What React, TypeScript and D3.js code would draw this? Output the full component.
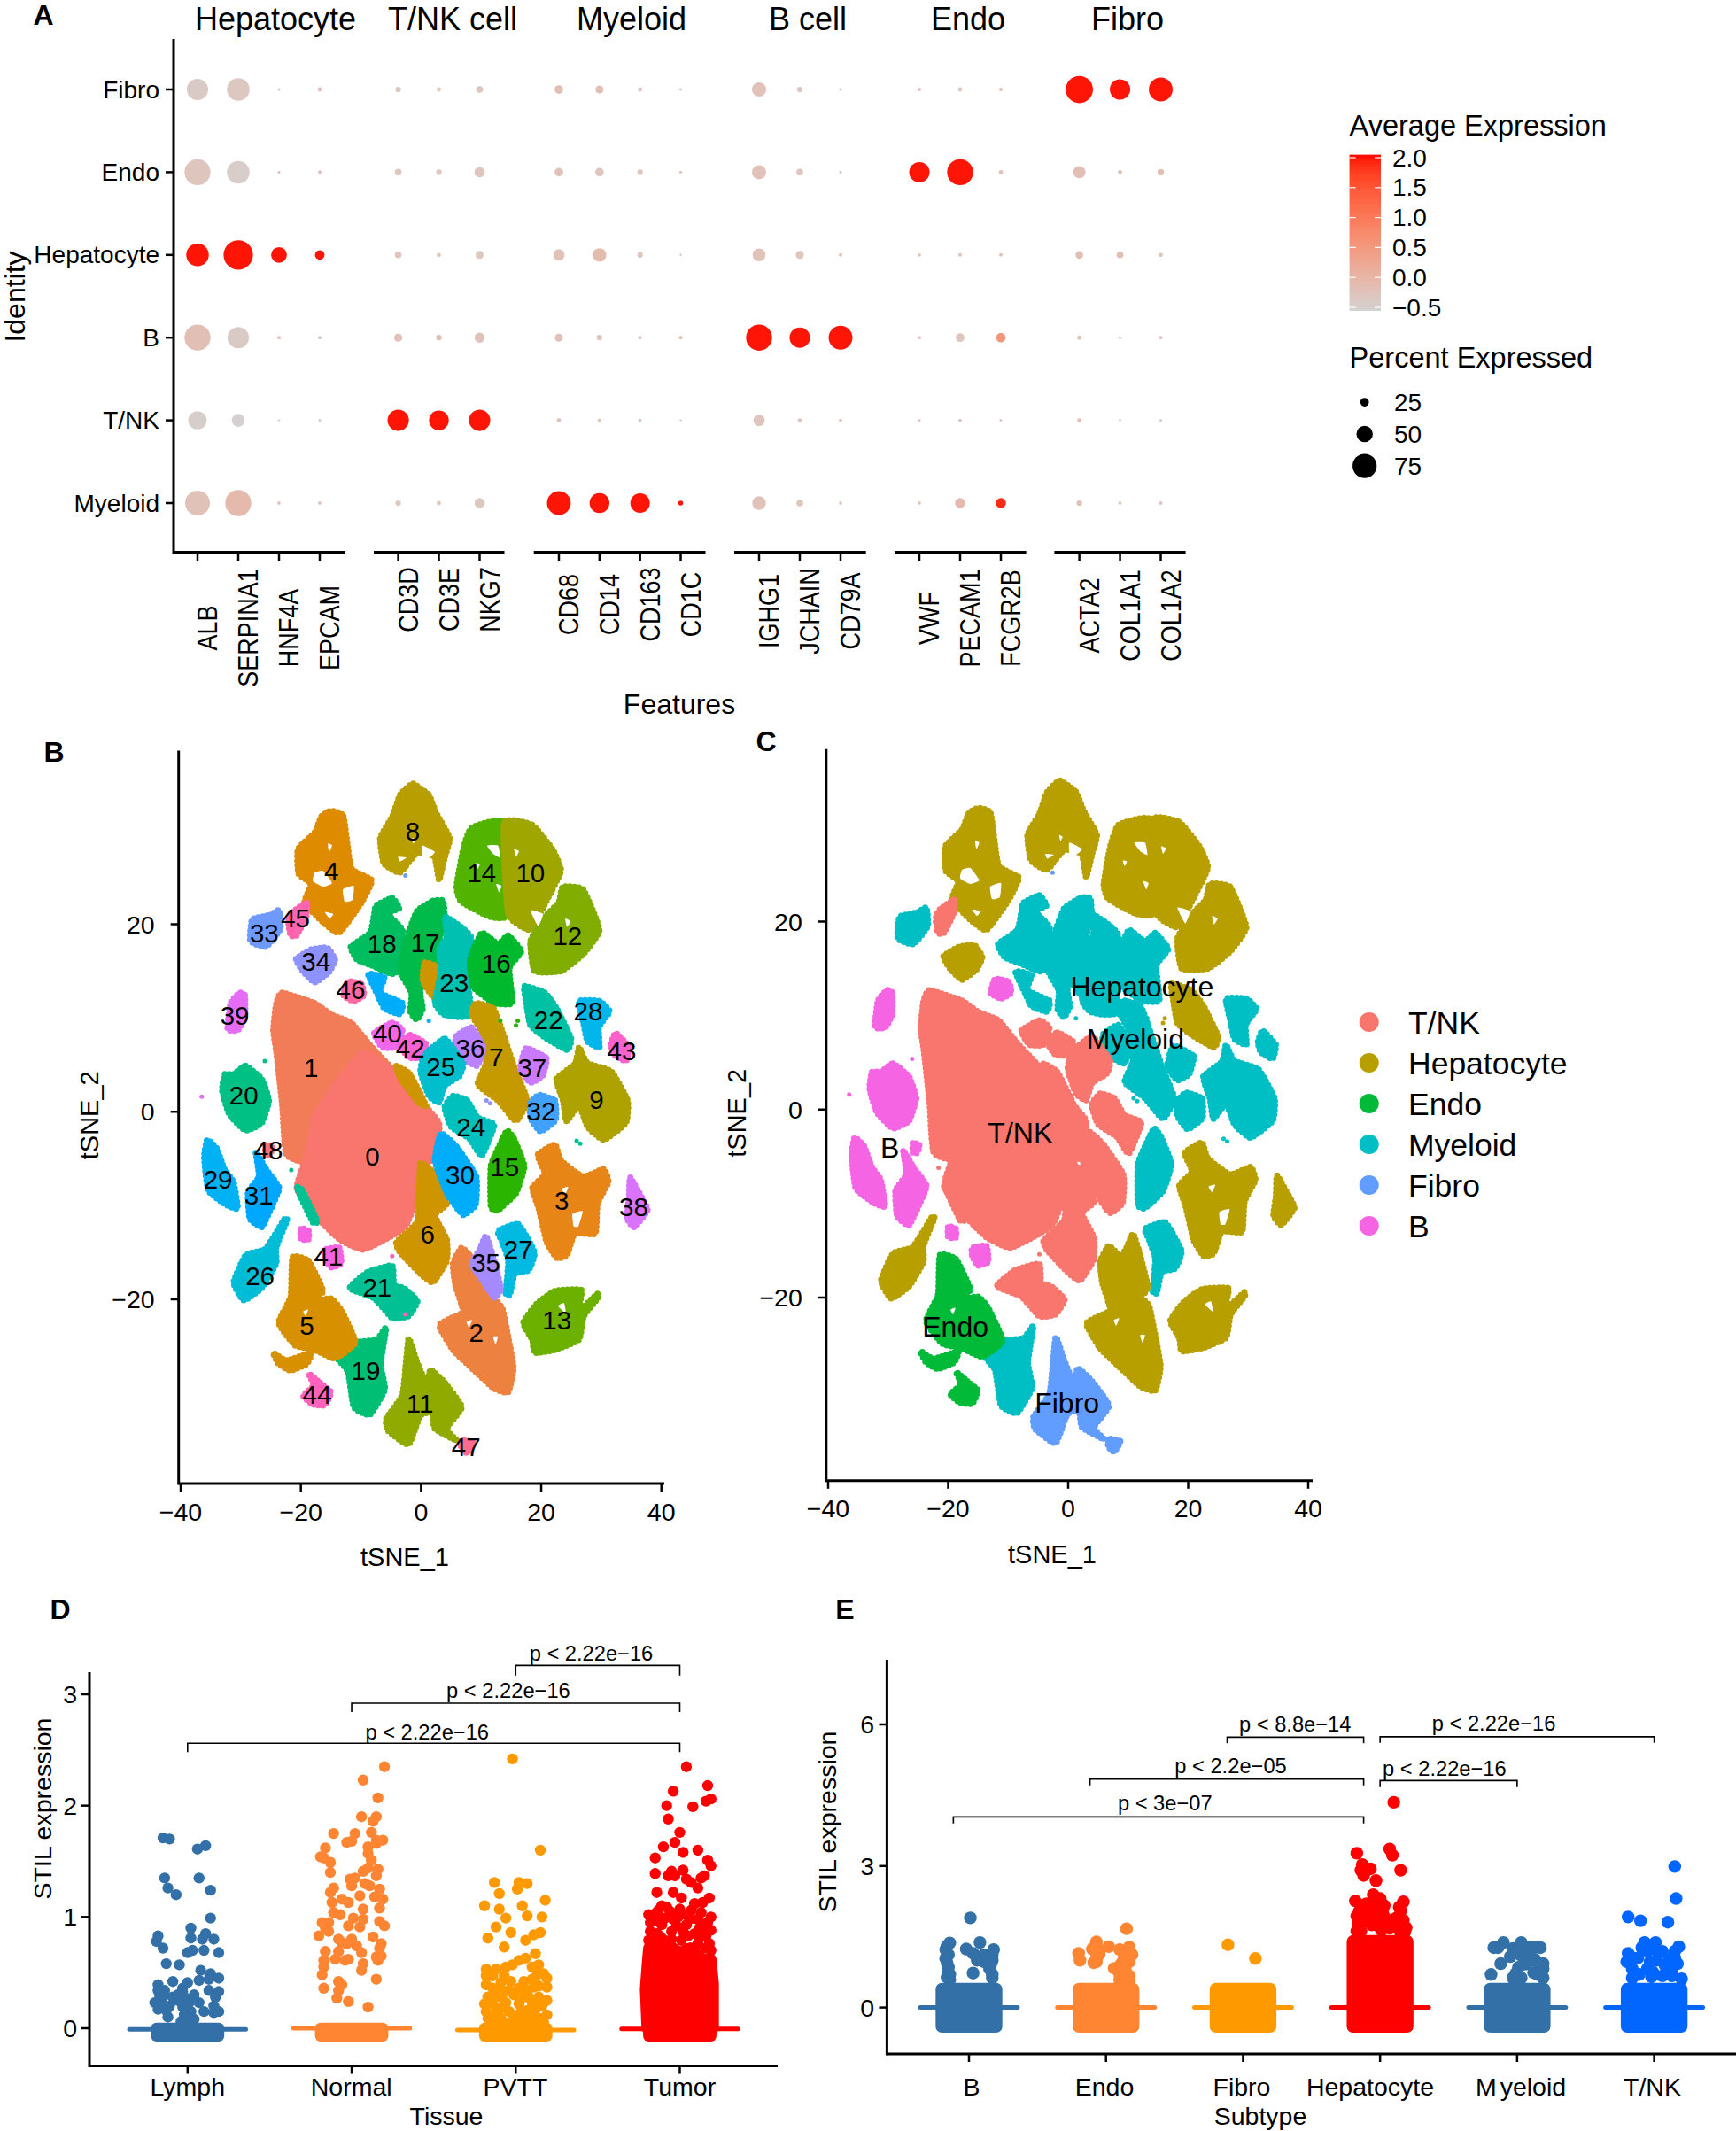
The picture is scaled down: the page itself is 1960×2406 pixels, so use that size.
import React from "react";
import * as d3 from "d3";

// ---------- Panel A data ----------
const identities = ["Fibro", "Endo", "Hepatocyte", "B", "T/NK", "Myeloid"];
const featureGroups = [
  { title: "Hepatocyte", genes: ["ALB", "SERPINA1", "HNF4A", "EPCAM"] },
  { title: "T/NK cell", genes: ["CD3D", "CD3E", "NKG7"] },
  { title: "Myeloid", genes: ["CD68", "CD14", "CD163", "CD1C"] },
  { title: "B cell", genes: ["IGHG1", "JCHAIN", "CD79A"] },
  { title: "Endo", genes: ["VWF", "PECAM1", "FCGR2B"] },
  { title: "Fibro", genes: ["ACTA2", "COL1A1", "COL1A2"] },
];
const percentExpressed = [
  [66, 70, 6, 11, 15, 11, 19, 25, 23, 11, 6, 43, 15, 6, 9, 11, 9, 85, 63, 74],
  [81, 70, 6, 9, 19, 15, 31, 25, 25, 15, 6, 43, 19, 6, 63, 81, 11, 37, 11, 18],
  [70, 92, 48, 28, 19, 11, 23, 34, 41, 15, 4, 39, 23, 9, 8, 9, 9, 22, 19, 11],
  [81, 66, 9, 8, 23, 15, 30, 23, 15, 8, 8, 81, 63, 74, 8, 25, 28, 11, 6, 8],
  [57, 39, 4, 6, 66, 61, 66, 11, 9, 8, 4, 34, 11, 8, 6, 8, 6, 11, 5, 6],
  [77, 81, 8, 8, 15, 11, 30, 74, 61, 60, 13, 41, 19, 8, 8, 30, 30, 15, 8, 9],
];
const averageExpression = [
  [-0.38, -0.33, -0.28, -0.23, -0.33, -0.33, -0.28, -0.18, -0.18, -0.28, -0.28, -0.23, -0.33, -0.23, -0.28, -0.33, -0.23, 2, 2, 2],
  [-0.28, -0.43, -0.28, -0.28, -0.33, -0.33, -0.28, -0.23, -0.28, -0.28, -0.28, -0.23, -0.28, -0.28, 2, 2, -0.23, -0.18, -0.23, -0.18],
  [2, 2, 2, 2, -0.28, -0.33, -0.33, -0.23, -0.1, -0.28, -0.33, -0.23, -0.28, -0.28, -0.28, -0.28, -0.28, -0.18, -0.18, -0.23],
  [-0.18, -0.38, -0.33, -0.28, -0.18, -0.18, -0.23, -0.23, -0.28, -0.28, -0.1, 2, 2, 2, -0.28, -0.28, 0.55, -0.23, -0.23, -0.23],
  [-0.45, -0.5, -0.33, -0.33, 2, 2, 2, -0.23, -0.28, -0.33, -0.33, -0.28, -0.28, -0.28, -0.28, -0.28, -0.33, -0.23, -0.28, -0.28],
  [-0.23, -0.08, -0.33, -0.28, -0.33, -0.33, -0.33, 2, 2, 2, 2, -0.23, -0.28, -0.33, -0.28, -0.08, 1.9, -0.23, -0.28, -0.28],
];
const colorTicks = [2, 1.5, 1, 0.5, 0, -0.5];
const pctTicks = [25, 50, 75];

// ---------- Panel B / C data (tSNE coordinates) ----------
const cellTypes = ["T/NK", "Hepatocyte", "Endo", "Myeloid", "Fibro", "B"];
const cellTypeColors = ["#F8766D", "#B79F00", "#00BA38", "#00BFC4", "#619CFF", "#F564E3"];
type Pt = [number, number];
const clusterOutlines: [number, number, Pt[]][] = [
  [1, 0, [[-23.1, 12.7], [-17.7, 11.6], [-15, 10.4], [-11.6, 9.5], [-8.2, 6.9], [-4.1, 4], [-4.8, 1.7], [-17.7, -5.2], [-22.4, -4.6], [-23.1, 0.6], [-24.1, 6.4], [-24.6, 8.7], [-24.1, 11.6]]],
  [0, 0, [[-9.5, 6.4], [-4.1, 4], [-0.1, 1.2], [3, -1.2], [2.6, -4.9], [-0.1, -5.8], [-0.7, -9.2], [-2.8, -12.4], [-9.5, -14.7], [-13.6, -13.6], [-17.7, -11], [-20.7, -8.1], [-19, -4.6], [-17.7, -0.6], [-14.3, 2.9]]],
  [6, 0, [[-0.1, -5.5], [2, -6.4], [4.3, -9.8], [2.3, -11], [4.3, -13.6], [4.3, -15.9], [2, -18.2], [-0.1, -17.3], [-3.5, -15], [-4.1, -13.9], [-0.7, -11.8], [-0.4, -9.2]]],
  [6, 0, [[-4.1, 4.9], [-1.8, 4], [0.9, 0.6], [-0.5, 1], [-3.5, 3.6]]],
  [21, 0, [[-20.7, -8.1], [-19.7, -8.4], [-17.3, -11.6], [-18, -11.8]]],
  [4, 1, [[-15, 32.1], [-12.9, 31.5], [-11.6, 26], [-8.2, 24.7], [-9.9, 22.3], [-13.6, 19.1], [-16.3, 20.2], [-19.4, 22.3], [-18.3, 24.3], [-20.4, 25.4], [-20.5, 28], [-17.7, 29.8], [-16.6, 31.5]]],
  [8, 1, [[-1.4, 35], [1.3, 33.8], [2.6, 31.8], [4.8, 29.2], [4, 27.2], [3, 24.7], [2.2, 27.2], [-0.7, 27.6], [-3.5, 25.5], [-6.2, 26.5], [-6.8, 29.2], [-4.8, 31.5], [-3.5, 33.8]]],
  [14, 1, [[8.4, 30.3], [13.8, 30.8], [14.5, 21.1], [11.4, 20.8], [6.7, 22.4], [5.9, 24], [7, 28]]],
  [10, 1, [[13.8, 30.8], [18.5, 30.6], [21.9, 28], [23.3, 25.7], [20.9, 22.5], [18.2, 19.4], [14.5, 21.1]]],
  [12, 1, [[23.6, 24], [27, 23.7], [29.7, 19.4], [27, 16.8], [23.3, 15], [18.9, 15], [18.2, 18.2], [20.6, 20.8], [22.9, 22.3]]],
  [18, 3, [[-7.5, 22], [-4.8, 22.8], [-3.6, 21.7], [-5.5, 21.1], [-3.1, 19.4], [-2.8, 15.6], [-4.8, 14.7], [-8.2, 15.6], [-10.6, 16.2], [-11.7, 17.6], [-8.5, 19.1], [-7.8, 21.1]]],
  [30, 3, [[-8.8, 14.7], [-6.1, 14.3], [-6.8, 12.7], [-3.1, 11.6], [-3.5, 10.4], [-6.1, 11], [-7.2, 12.4]]],
  [17, 3, [[-0.7, 21.4], [2, 22.5], [3.7, 22.5], [3.9, 20.5], [3, 18.2], [3, 15.9], [0.6, 15.6], [-0.1, 12.7], [0.3, 11], [-0.7, 9.8], [-1.8, 10.7], [-1.6, 12.7], [-3.5, 15], [-2.4, 18.5]]],
  [6, 3, [[0.6, 15.9], [3, 15.3], [2.3, 12.1], [0.3, 13.9]]],
  [23, 3, [[4, 20.8], [6.7, 19.7], [8.4, 18.5], [7.7, 14.5], [8.4, 10.4], [6, 10.1], [3.7, 10.4], [2.3, 11.6], [3.3, 15], [3, 17.3], [4.3, 18.8]]],
  [16, 3, [[10.1, 19.1], [12.8, 17.9], [14.5, 18.8], [16.7, 17.1], [14.7, 15.3], [15.2, 11.6], [12.1, 11.6], [8.7, 13.3], [8.1, 16.2]]],
  [7, 3, [[9.1, 11.6], [12.1, 11], [13.8, 8.1], [15.8, 4.3], [17.7, 1.2], [15.8, -1], [12.8, 1.2], [9.4, 2.9], [10.8, 5.2], [10.4, 8.1], [8.4, 10.4]]],
  [22, 1, [[17.2, 13.4], [20.6, 12.7], [22.6, 11], [25, 7.8], [24.3, 6.6], [20.9, 7.8], [18.2, 9.2], [17.5, 11.6]]],
  [28, 3, [[26.3, 11.8], [29.7, 11.8], [31.4, 10.7], [29.6, 9], [29.7, 6.9], [27.7, 7.5], [27, 9.5]]],
  [43, 3, [[32.4, 8.4], [34.6, 6.9], [34.1, 5.4], [32.1, 6.1], [31.6, 7.2]]],
  [9, 3, [[26.3, 6.9], [27.7, 5.2], [31.7, 4.3], [34.4, 1.2], [34.1, -1.2], [30.4, -3], [27.7, -1.6], [26.3, 0.6], [24.2, -1], [23.6, 1.2], [22.5, 3.5], [25.6, 5.1]]],
  [37, 3, [[17.5, 6.8], [20.9, 5.7], [20.2, 3.8], [18.2, 3.1], [16.5, 4.6]]],
  [32, 3, [[19.6, 1.8], [22.3, 1.2], [22.4, -0.9], [19.9, -2.1], [18.2, -0.7], [18.2, 0.9]]],
  [15, 3, [[14.3, -2], [15.5, -2.9], [17.2, -5.8], [15.8, -8.7], [12.8, -10.5], [11.6, -10.1], [11.6, -5.8], [13.1, -3.5]]],
  [3, 1, [[22.3, -3.5], [23.3, -5.2], [27, -6.9], [30.4, -6.1], [31.2, -7.5], [29.4, -9.8], [29, -13], [25.6, -13], [24.3, -15.3], [22.6, -15.6], [20.9, -13.9], [19.6, -10.4], [18.5, -8.1], [20.6, -6.6], [19.4, -4.6]]],
  [38, 1, [[34.8, -7], [36.8, -9.2], [37.7, -10.5], [35.5, -12.3], [34.2, -11.3], [34.6, -9.2]]],
  [27, 3, [[12.8, -12.7], [16.2, -12], [18.9, -15], [17.9, -16.9], [15.6, -17.3], [14.8, -19.5], [14.1, -19.4], [14.5, -15.9], [13.5, -13.9]]],
  [2, 1, [[6.7, -14.5], [8.1, -15.3], [8.4, -17.3], [10.1, -18.5], [12.1, -19.9], [13.6, -21.1], [15.4, -27.2], [14.5, -29.9], [12.1, -29.5], [8.7, -27.5], [5.3, -25.4], [3, -22.8], [5, -22], [7, -21.3], [5.7, -18.5], [5.3, -16.2]]],
  [35, 1, [[10.8, -13.2], [11.8, -15], [13.3, -18.8], [12.2, -19.8], [10.1, -17.9], [8.4, -16.3], [9.7, -14.7]]],
  [13, 1, [[22.3, -19.1], [26.7, -19], [26.3, -21.1], [29.4, -19.4], [29.4, -19.9], [27.1, -21.8], [26.3, -24.3], [22.3, -25.4], [18.9, -25.7], [18.5, -24.3], [17, -22.5], [19.2, -20.5]]],
  [11, 4, [[-2.1, -24.2], [-0.7, -26.6], [0.9, -28.9], [1.6, -27.5], [4, -28.9], [6.8, -31.5], [4.3, -33.8], [6, -35.1], [2.3, -33.8], [1.8, -32.1], [-0.1, -32.4], [-2.1, -35.5], [-5.5, -34], [-5.8, -32.7], [-3.1, -30.1]]],
  [47, 4, [[6.7, -35], [8.7, -35.3], [7.7, -36.4], [6.7, -35.9]]],
  [19, 3, [[-14.3, -25.9], [-10.9, -24.6], [-7.4, -24.3], [-5.8, -23], [-6.7, -26.9], [-6, -29.6], [-8.5, -32.3], [-11.2, -31.5], [-12.2, -27.7]]],
  [5, 2, [[-21.4, -15.5], [-18.7, -15.9], [-16.3, -19.1], [-18, -20.2], [-15, -19.9], [-13.3, -21.1], [-10.9, -24.6], [-14.3, -26.3], [-17.7, -25.4], [-21, -24.9], [-23.7, -22.5], [-21.7, -19.7]]],
  [5, 2, [[-24.6, -25.7], [-22.4, -26.5], [-18.3, -25.7], [-19, -26.9], [-21.7, -27.6], [-23.7, -26.9]]],
  [44, 2, [[-18.7, -27.9], [-16.8, -28.9], [-15, -29.9], [-16, -31.3], [-18, -31.2], [-19.6, -30.3], [-17.9, -29.2]]],
  [26, 1, [[-22.3, -11.6], [-24.1, -14.5], [-24.1, -16.2], [-26.5, -18.8], [-29.5, -20.1], [-31.2, -18.2], [-29.2, -15.3], [-26.1, -14.7], [-24.8, -13.6], [-22.7, -11.4]]],
  [21, 0, [[-11.9, -18.8], [-8.9, -17.1], [-4.8, -16.4], [-4.5, -18.5], [-2.8, -18.8], [-0.6, -20.2], [-2.1, -21.8], [-4.8, -22], [-7.8, -19.9]]],
  [41, 5, [[-16, -14.7], [-13.6, -14.5], [-13.3, -16.2], [-15, -16.6], [-16, -15.6]]],
  [41, 5, [[-20, -12.4], [-18.7, -12.7], [-18.7, -13.6], [-20, -13.6]]],
  [20, 5, [[-31.2, 4], [-29.2, 4.9], [-26.5, 3.5], [-25.3, 1.2], [-26.5, -1.2], [-29.2, -2], [-31.9, -0.3], [-33.1, 2.2], [-32.7, 4]]],
  [29, 5, [[-35.6, -3], [-34, -3.9], [-32.7, -6.1], [-31.2, -7.5], [-30.5, -10.3], [-32.5, -9.9], [-35.4, -8.4], [-36.1, -4.9]]],
  [31, 5, [[-27.5, -4.3], [-25.8, -6.1], [-23.6, -8.1], [-24.8, -10.1], [-26.5, -12.3], [-28.5, -11.4], [-28.8, -8.6], [-27, -6.9]]],
  [48, 5, [[-25.9, -3.5], [-24.8, -3.8], [-25.1, -4.6], [-25.9, -4.6]]],
  [39, 5, [[-30.2, 12.7], [-29.3, 12.4], [-29.3, 10.1], [-30.5, 8.7], [-32.2, 8.8], [-31.7, 11.6]]],
  [33, 3, [[-28.1, 20.5], [-25.1, 21], [-23.6, 21.5], [-23.4, 19.5], [-25.8, 17.6], [-28.4, 18.2]]],
  [45, 0, [[-21.4, 21.3], [-19, 22.3], [-19.1, 20.8], [-20.7, 18.8], [-21.7, 18.8], [-22.1, 20.3]]],
  [34, 1, [[-20.8, 16.3], [-18.3, 17.3], [-15.6, 17.5], [-14.3, 16.2], [-15.3, 14.9], [-17.7, 13.8], [-19.7, 15]]],
  [46, 5, [[-12.2, 13.9], [-9.9, 13.6], [-9.5, 12.4], [-11.2, 11.8], [-12.9, 12.4]]],
  [40, 0, [[-7.8, 8.4], [-4.8, 9.5], [-3.1, 8.7], [-4.1, 6.9], [-6.5, 6.9]]],
  [42, 0, [[-3.5, 7.2], [-1.8, 8.2], [0.9, 7.2], [0.3, 5.8], [-2.1, 5.8]]],
  [36, 3, [[5.9, 8.1], [8.4, 9], [10.4, 6.9], [9.4, 4.9], [7.4, 5.5], [5.7, 6.9]]],
  [25, 0, [[0.6, 6.1], [4, 7.8], [7, 5.2], [6.4, 3.8], [4, 2.8], [3, 1], [1.3, 1.7], [-0.1, 4.3]]],
  [24, 0, [[5.3, 1.7], [7.7, 1.2], [9.4, -0.6], [12.2, -1.4], [10.1, -4.7], [8.1, -2.9], [5, -1.6], [3.9, 0.5]]],
  [30, 0, [[3.3, -2.3], [6, -3.8], [9.2, -6.9], [9.1, -9.9], [7, -11], [4.3, -8.7], [2.3, -5.2]]],
];
const clusterHoles: Pt[][] = [
  [[-17.7, 25.5], [-16.3, 25.7], [-14.8, 24.4], [-16.3, 24], [-18, 24.6]],
  [[-13, 23.7], [-11.2, 24.1], [-11.4, 22.6], [-12.7, 22.4]],
  [[-16, 21.3], [-14.6, 21.1], [-15.2, 20.6]],
  [[-15.5, 28.6], [-14.8, 28.4], [-15.3, 27.7]],
  [[-3.8, 27.2], [-2.4, 27.1], [-3.5, 26.7]],
  [[0.2, 28.4], [2.3, 27.7], [1.3, 27.1], [0.2, 27.2]],
  [[-1.5, 29.2], [-0.9, 29], [-1.3, 28.6]],
  [[11, 28.4], [12.8, 28.4], [13.2, 27.1], [12, 27.5]],
  [[9.1, 26.5], [9.8, 26.4], [9.4, 25.9]],
  [[15.5, 28], [16.3, 27.8], [15.8, 27.2]],
  [[12.5, 24.3], [13.4, 24.1], [13, 23.4]],
  [[18.2, 21.5], [20.3, 21.1], [19.5, 19.8]],
  [[24, 20.6], [24.9, 20.3], [24.3, 19.7]],
  [[25.2, -10.9], [26.9, -10.6], [26.2, -12.2], [25.4, -12.2]],
  [[23.4, -8.2], [24.5, -8], [24, -8.8]],
  [[22.8, -20.7], [23.8, -20.4], [24.1, -21.5]],
  [[-19.6, -21.3], [-18.8, -21.1], [-19.2, -21.8]],
  [[7.6, -22.4], [8.5, -22.2], [8, -23]],
  [[12, -24], [12.8, -24], [12.4, -24.8]],
];
const clusterLabelSpots: Pt[] = [
  [-8.1, -4.7], [-18.3, 4.7], [9.2, -23.5], [23.4, -9.5], [-14.9, 25.7], [-19, -22.8], [1.1, -13.1], [12.5, 5.8], [-1.4, 29.9], [29.2, 1.3],
  [18.2, 25.5], [-0.2, -31.1], [24.4, 18.8], [22.6, -22.2], [10.1, 25.5], [13.9, -5.9], [12.5, 15.8], [0.7, 18], [-6.5, 17.9], [-9.2, -27.6],
  [-29.5, 1.8], [-7.3, -18.7], [21.2, 9.8], [5.5, 13.8], [8.3, -1.6], [3.3, 4.8], [-26.8, -17.5], [16.2, -14.7], [27.8, 10.7], [-33.8, -7.2],
  [6.5, -6.7], [-27, -8.9], [20, 0.1], [-26.1, 19.1], [-17.5, 16], [10.8, -16.1], [8.2, 6.8], [18.5, 4.7], [35.4, -10.1], [-31, 10.3],
  [-5.6, 8.4], [-15.4, -15.4], [-1.8, 6.8], [33.4, 6.5], [-17.3, -30.2], [-20.9, 20.7], [-11.7, 13], [7.5, -35.7], [-25.4, -4.1],
];
const cellTypeLabelSpots: [string, number, number][] = [
  ["Hepatocyte", 12.3, 13.1], ["Myeloid", 11.2, 7.5], ["T/NK", -8, -2.5], ["B", -29.7, -4.1], ["Endo", -18.8, -23.1], ["Fibro", -0.2, -31.2],
];
const strayPoints: [number, number, number, number][] = [
  [-36.5, 1.6, 39, 5], [25.9, -3.1, 21, 3], [26.5, -3.4, 21, 3], [-2.6, 25.2, 33, 4], [13.2, 9.7, 15, 3], [16.1, 9.7, 15, 1], [15.8, 9.2, 15, 1],
  [1.3, 9.7, 30, 3], [-21.6, -6.2, 21, 0], [-26, 5.4, 20, 5], [10.9, 1.2, 34, 3], [11.5, 0.9, 34, 3], [-2.6, -21.6, 44, 0], [-4.8, -15.4, 45, 0],
];

// ---------- Panel D data ----------
const tissues = ["Lymph", "Normal", "PVTT", "Tumor"];
const tissueColors = ["#3370A8", "#FF8533", "#FF9900", "#FF0000"];
const tissueMeans = [-0.01, 0, -0.015, -0.005];
const lymphPoints: Pt[] = [[-.15,1.71],[-.11,1.7],[.06,1.61],[.11,1.64],[-.14,1.35],[.07,1.35],[-.12,1.26],[-.07,1.2],[.14,1.24],[.14,.99],[.02,.9],[-.18,.83],[-.19,.78],[.02,.81],[.11,.85],[.09,.8],[.16,.8],[-.15,.72],[.03,.7],[0,.68],[.1,.7],[.19,.68],[-.13,.58],[-.05,.57],[.08,.52],[.14,.49],[.19,.45],[-.09,.42],[.07,.43],[-.18,.39],[0,.41],[-.03,.36],[.13,.44],[-.18,.34],[-.14,.34],[-.06,.3],[-.03,.33],[.13,.34],[.19,.33],[.17,.28],[-.2,.23],[-.16,.22],[-.11,.2],[-.06,.25],[.01,.23],[.07,.23],[.16,.2],[.19,.15],[-.18,.17],[.02,.15],[.1,.15],[-.12,.1],[.01,.09],[-.04,.06],[-.15,.28],[-.09,.28],[-.02,.28],[.04,.3],[-.13,.16],[-.03,.19],[-.02,.12],[.04,.08],[-.17,.29],[.16,.14]];
const normalPoints: Pt[] = [[.2,2.35],[.07,2.23],[.16,2.07],[.06,1.9],[.15,1.9],[.13,1.86],[-.11,1.75],[.02,1.75],[.12,1.76],[-.03,1.67],[0,1.68],[.15,1.69],[.19,1.69],[.15,1.66],[-.16,1.62],[.1,1.63],[.1,1.57],[-.19,1.54],[-.17,1.53],[-.13,1.49],[.12,1.51],[.16,1.43],[-.13,1.4],[.07,1.41],[.1,1.44],[.15,1.37],[-.01,1.34],[.02,1.35],[0,1.28],[.08,1.3],[.11,1.28],[-.11,1.26],[-.13,1.22],[.17,1.25],[.14,1.18],[.05,1.19],[.19,1.16],[-.06,1.16],[-.02,1.13],[-.12,1.13],[.17,1.08],[.07,1.07],[-.11,1.04],[-.07,1.02],[-.18,.95],[-.14,.95],[.01,.99],[.07,.98],[.17,.96],[-.02,.92],[.05,.91],[.2,.92],[-.16,.9],[-.14,.87],[-.2,.83],[.13,.82],[-.08,.8],[0,.8],[-.06,.77],[.03,.74],[-.03,.76],[.18,.76],[.17,.72],[-.16,.69],[-.08,.69],[.06,.68],[.15,.64],[.18,.65],[-.17,.61],[-.1,.62],[-.02,.62],[-.04,.61],[.07,.58],[.16,.61],[-.17,.55],[.06,.52],[-.18,.48],[.15,.44],[-.08,.42],[-.06,.39],[-.17,.36],[-.08,.34],[-.09,.27],[-.02,.24],[.1,.19]];
const pvttPoints: Pt[] = [[-.02,2.42],[.15,1.6],[-.13,1.31],[.02,1.31],[.07,1.3],[.01,1.25],[-.1,1.21],[.18,1.15],[-.19,1.1],[.04,1.1],[-.1,1.07],[.07,1.01],[-.06,.99],[.16,1],[-.12,.91],[-.03,.86],[.11,.84],[.15,.86],[-.17,.81],[.06,.79],[-.07,.73],[.12,.67],[.06,.63],[.02,.61],[-.02,.57],[.14,.57],[-.06,.55],[-.18,.53],[-.12,.53],[.1,.55],[.17,.49],[.19,.45],[-.18,.47],[-.07,.47],[.05,.42],[.1,.44],[.19,.37],[-.18,.39],[-.09,.41],[-.14,.36],[-.04,.34],[.02,.36],[.07,.34],[.11,.37],[-.17,.28],[-.09,.28],[-.01,.3],[.05,.28],[.14,.28],[.19,.25],[-.19,.22],[-.14,.22],[-.06,.23],[.02,.22],[.1,.23],[.16,.2],[-.18,.15],[-.12,.14],[-.04,.15],[.03,.14],[.11,.14],[.19,.12],[-.17,.09],[-.09,.09],[-.01,.09],[.06,.09],[.14,.09],[-.14,.47],[-.1,.33],[-.03,.42],[.13,.48],[.14,.38],[-.13,.29],[-.06,.33],[.08,.28],[.12,.17],[.07,.16],[-.09,.18],[-.15,.1],[-.04,.05],[.02,.05],[.1,.05],[.17,.05],[-.13,.05]];
const tumorPoints: Pt[] = [[.04,2.35],[.17,2.18],[-.04,2.13],[.19,2.06],[.16,2.04],[-.08,2],[.08,1.99],[-.07,1.88],[0,1.76],[-.03,1.67],[-.1,1.63],[.02,1.58],[.11,1.6],[-.15,1.53],[.17,1.51],[.19,1.46],[-.15,1.39],[-.05,1.41],[.02,1.42],[-.07,1.37],[-.03,1.37],[.04,1.34],[.15,1.37],[.13,1.35],[.07,1.31],[.11,1.26],[-.14,1.22],[-.04,1.22],[.01,1.17],[.18,1.17],[.09,1.12],[.14,1.13],[-.08,1.09],[-.13,1.06],[0,1.07],[.07,1.06],[-.19,1.02],[-.15,1.03],[-.04,.98],[.19,1],[.13,1.04],[-.11,.93],[-.18,.95],[.04,.93],[.15,.91],[-.18,.87],[-.05,.87],[.09,.85],[.16,.83],[-.19,.79],[.01,.79],[.18,.76],[-.18,.69],[.19,.7],[.07,.72],[-.08,.76],[.12,.64],[-.11,1.1],[-.06,1.05],[-.01,1],[.04,1.02],[.11,.98],[.17,.95],[-.16,.98],[-.09,.99],[.06,.98],[.12,.9],[.02,.87],[-.02,.92],[-.13,.96],[.13,.82],[.19,.88],[.11,.76],[.05,.83],[-.05,.8],[.16,.72],[.09,.7]];
const tissuePoints = [lymphPoints, normalPoints, pvttPoints, tumorPoints];
const tissueBand: Pt[] = [[-.19, 0], [.19, 0], [.19, -.07], [-.19, -.07]];
const tumorCore: Pt[] = [[-.2, 0], [-.21, .35], [-.2, .55], [-.19, .72], [-.14, .85], [-.07, .75], [0, .68], [.06, .72], [.14, .62], [.19, .62], [.205, .4], [.205, 0]];
const tissueBrackets: [number, number, number, number, string][] = [
  [2, 3, 3.26, 3.17, "p < 2.22e\u221216"], [1, 3, 2.92, 2.84, "p < 2.22e\u221216"], [0, 3, 2.56, 2.48, "p < 2.22e\u221216"],
];
const tissueBracketLabels: Pt[] = [[2.46, 3.37], [1.955, 3.03], [1.46, 2.66]];

// ---------- Panel E data ----------
const subtypes = ["B", "Endo", "Fibro", "Hepatocyte", "Myeloid", "T/NK"];
const subtypeColors = ["#3370A8", "#FF8533", "#FF9900", "#FF0000", "#3370A8", "#0066FF"];
const bPoints: Pt[] = [[.01,1.9],[-.14,1.37],[.08,1.38],[-.17,1.23],[-.02,1.24],[.18,1.23],[.03,1.15],[-.15,1.12],[.14,1.08],[-.17,1.04],[.06,1],[.11,.97],[.17,1],[-.15,.85],[-.15,.74],[.03,.73],[.15,.82],[.17,.7],[-.16,.64],[-.14,.59],[.17,.63],[-.16,.95],[.16,.92],[.11,1.12],[.17,1.12],[-.16,1.3],[-.14,.7]];
const endoPoints: Pt[] = [[.15,1.67],[-.07,1.39],[.02,1.29],[-.1,1.24],[-.05,1.23],[.17,1.28],[.1,1.23],[-.2,1.15],[-.19,1],[-.05,1.13],[.19,1.12],[.13,1.04],[-.09,.95],[-.07,.97],[.17,.97],[.06,.83],[.14,.82],[.1,.7],[.17,.67],[.1,.59],[.17,.57],[.14,1.15],[.11,.92],[.15,.72],[-.07,1.05],[.12,.77]];
const fibroPoints: Pt[] = [[-.11,1.33],[.09,1.04]];
const hepatocytePoints: Pt[] = [[.1,4.35],[-.17,3.27],[.07,3.36],[.09,3.23],[-.13,3.03],[-.07,2.94],[-.14,2.91],[.15,2.91],[-.12,2.8],[-.03,2.69],[-.05,2.39],[-.18,2.26],[-.1,2.2],[0,2.31],[.17,2.24],[.14,2.13],[.03,2.16],[-.17,1.94],[-.03,2.05],[.12,1.9],[-.12,1.83],[.05,1.87],[.19,1.69],[-.14,1.62],[.01,1.64],[.14,1.64],[-.06,1.75],[-.15,2.05],[-.08,2.02],[-.12,2.1],[-.05,2.22],[-.02,2.3],[-.09,1.9],[-.03,1.82],[.02,2],[.08,1.78],[.13,1.75],[.17,1.85],[-.16,1.78],[.15,2.05],[-.01,1.72],[.07,1.68],[-.17,1.62],[.18,1.6]];
const myeloidPoints: Pt[] = [[-.1,1.38],[.03,1.38],[-.17,1.27],[.14,1.28],[.17,1.27],[-.02,1.19],[.08,1.19],[-.05,1.08],[.1,1],[.19,.93],[-.12,.93],[.19,.82],[.01,.85],[-.19,.7],[.12,.74],[-.03,.63],[.19,.63],[.03,.63],[-.14,1.27],[.05,1.3],[.1,1.28],[-.03,1.25],[.03,1.1],[.13,1.02],[.16,.9],[-.01,.72],[.15,.7],[.06,.92]];
const tnkPoints: Pt[] = [[.15,2.99],[.16,2.31],[-.19,1.92],[-.1,1.84],[.1,1.81],[-.07,1.38],[.01,1.38],[.18,1.29],[-.19,1.15],[.06,1.19],[.15,1.19],[-.09,1.27],[-.2,.97],[-.03,.97],[.17,.93],[-.16,.82],[.08,.89],[-.05,.82],[-.16,.63],[.2,.61],[.06,.67],[-.05,1.2],[.02,1.2],[-.12,1.05],[.11,1.02],[.15,1.05],[.02,1.0],[-.16,1.05],[-.11,.7],[-.02,.65],[.13,.67],[.13,.82],[-.01,.75]];
const subtypePoints = [bPoints, endoPoints, fibroPoints, hepatocytePoints, myeloidPoints, tnkPoints];
const subtypeCoreTops = [0.39, 0.39, 0.39, 1.4, 0.39, 0.39];
const subtypeBrackets: [number, number, number, number, string][] = [
  [1.884, 2.88, 5.73, 5.6, "p < 8.8e\u221214"], [0.883, 2.88, 4.84, 4.71, "p < 2.2e\u221205"], [-0.114, 2.88, 4.04, 3.9, "p < 3e\u221207"],
  [3, 5, 5.74, 5.61, "p < 2.22e\u221216"], [3, 4, 4.81, 4.67, "p < 2.22e\u221216"],
];
const subtypeBracketLabels: Pt[] = [[2.38, 6], [1.91, 5.11], [1.43, 4.32], [3.83, 6.02], [3.47, 5.07]];

// ---------- helpers ----------
const FONT = "'Liberation Sans', Arial, sans-serif";
const minus = (v: number) => String(v).replace("-", "\u2212");

function hueColor(h: number, c = 100, l = 65) {
  const hr = (h * Math.PI) / 180;
  const U = c * Math.cos(hr), V = c * Math.sin(hr);
  const Y = 100 * Math.pow((l + 16) / 116, 3);
  const un = 0.19784, vn = 0.46834;
  const u = U / (13 * l) + un, v = V / (13 * l) + vn;
  const X = (9 * Y * u) / (4 * v);
  const Z = -X / 3 - 5 * Y + (3 * Y) / v;
  const lin = [
    (3.2406 * X - 1.5372 * Y - 0.4986 * Z) / 100,
    (-0.9689 * X + 1.8758 * Y + 0.0415 * Z) / 100,
    (0.0557 * X - 0.204 * Y + 1.057 * Z) / 100,
  ];
  const [r, g, b] = lin.map((t) => {
    const a = Math.max(0, Math.min(1, t));
    return Math.round(255 * (a <= 0.0031308 ? 12.92 * a : 1.055 * Math.pow(a, 1 / 2.4) - 0.055));
  });
  return `rgb(${r},${g},${b})`;
}
const clusterColor = (i: number) => hueColor(15 + (360 * i) / 49);

const T = (p: any) => <text fontFamily={FONT} fill="#000" dominantBaseline="central" {...p} />;

// ---------- Panel A ----------
const facetLayout = [
  { x0: 196, x1: 390, first: 223, last: 361, labelY: 709 },
  { x0: 422, x1: 569.5, first: 449.6, last: 541.5, labelY: 677 },
  { x0: 602.7, x1: 796.5, first: 631, last: 768.5, labelY: 682.5 },
  { x0: 829, x1: 977.7, first: 857, last: 949, labelY: 690 },
  { x0: 1010, x1: 1158.6, first: 1038, last: 1130, labelY: 698 },
  { x0: 1190.4, x1: 1338.6, first: 1218.6, last: 1310.5, labelY: 695 },
];
const titleCenters = [311, 511, 713, 912, 1093, 1273];

function DotPlot() {
  const yRow = d3.scalePoint<string>().domain(identities).range([101, 568]);
  const radius = d3.scaleLinear().domain([0, 100]).range([0.5, 18]);
  const color = d3.scaleLinear<string>().domain([-0.55, 2.05]).range(["lightgrey", "red"]).interpolate(d3.interpolateLab);
  const barY = d3.scaleLinear().domain([-0.5, 2]).range([347, 178]);
  const barSteps = d3.range(-0.55, 2.05, 0.05);
  let offset = 0;
  return (
    <g>
      <line x1={196} x2={196} y1={44} y2={625} stroke="#000" strokeWidth={3} />
      {identities.map((id) => (
        <g key={id}>
          <line x1={187} x2={196} y1={yRow(id)} y2={yRow(id)} stroke="#000" strokeWidth={2.5} />
          <T x={180} y={yRow(id)} textAnchor="end" fontSize={28}>{id}</T>
        </g>
      ))}
      <T transform="translate(17,335) rotate(-90)" textAnchor="middle" fontSize={32}>Identity</T>
      {featureGroups.map((g, fi) => {
        const lay = facetLayout[fi];
        const x = d3.scalePoint<string>().domain(g.genes).range([lay.first, lay.last]);
        const start = offset;
        offset += g.genes.length;
        return (
          <g key={g.title}>
            <T x={titleCenters[fi]} y={21} textAnchor="middle" fontSize={36}>{g.title}</T>
            <line x1={lay.x0} x2={lay.x1} y1={623.5} y2={623.5} stroke="#000" strokeWidth={3} />
            {g.genes.map((gene, gi) => (
              <g key={gene}>
                <line x1={x(gene)} x2={x(gene)} y1={623.5} y2={633} stroke="#000" strokeWidth={2.5} />
                <text fontFamily={FONT} fontSize={31} textAnchor="middle"
                  transform={`translate(${(x(gene) as number) + 22},${lay.labelY}) rotate(-90) scale(0.87,1)`}>{gene}</text>
                {identities.map((id, ri) => (
                  <circle key={id} cx={x(gene)} cy={yRow(id)} r={radius(percentExpressed[ri][start + gi])}
                    fill={color(averageExpression[ri][start + gi])} />
                ))}
              </g>
            ))}
          </g>
        );
      })}
      <T x={767} y={795} textAnchor="middle" fontSize={32}>Features</T>

      <T x={1523.6} y={142} fontSize={32.5}>Average Expression</T>
      {barSteps.map((v) => (
        <rect key={v} x={1523.6} width={35.4} y={barY(v + 0.05)} height={barY(v) - barY(v + 0.05) + 0.6} fill={color(v + 0.025)} />
      ))}
      {colorTicks.map((v) => (
        <g key={v}>
          <line x1={1523.6} x2={1530.6} y1={barY(v)} y2={barY(v)} stroke="#fff" strokeWidth={1.2} />
          <line x1={1552} x2={1559} y1={barY(v)} y2={barY(v)} stroke="#fff" strokeWidth={1.2} />
          <T x={1572} y={barY(v)} fontSize={28}>{minus(v) === "2" ? "2.0" : minus(v).includes(".") ? minus(v) : minus(v) + ".0"}</T>
        </g>
      ))}
      <T x={1523.6} y={404} fontSize={32.5}>Percent Expressed</T>
      {pctTicks.map((p, i) => (
        <g key={p}>
          <circle cx={1540.7} cy={454 + i * 36} r={radius(p)} fill="#000" />
          <T x={1574} y={454 + i * 36} fontSize={28}>{p}</T>
        </g>
      ))}
    </g>
  );
}

// ---------- Panels B and C ----------
function TSNE({ px, py, axisX, axisTop, axisBottom, axisRight, colorOf, showClusterLabels, titleX }: any) {
  const x = d3.scaleLinear().domain([-40, 40]).range(px);
  const y = d3.scaleLinear().domain([-20, 20]).range(py);
  const outline = d3.line<Pt>().x((d) => x(d[0])).y((d) => y(d[1])).curve(d3.curveCardinalClosed.tension(0.55));
  return (
    <g>
      {clusterOutlines.map(([id, type, pts], i) => (
        <path key={i} d={outline(pts) as string} fill={colorOf(id, type)} stroke={colorOf(id, type)}
          strokeWidth={7} strokeDasharray="0 5" strokeLinecap="round" strokeLinejoin="round" />
      ))}
      {strayPoints.map(([a, b, id, type], i) => (
        <circle key={i} cx={x(a)} cy={y(b)} r={2.5} fill={colorOf(id, type)} />
      ))}
      {clusterHoles.map((pts, i) => <path key={i} d={outline(pts) as string} fill="#fff" />)}
      {showClusterLabels
        ? clusterLabelSpots.map((p, i) => <T key={i} x={x(p[0])} y={y(p[1])} textAnchor="middle" fontSize={29.5}>{i}</T>)
        : cellTypeLabelSpots.map(([n, a, b]) => <T key={n} x={x(a)} y={y(b)} textAnchor="middle" fontSize={32}>{n}</T>)}
      <line x1={axisX} x2={axisX} y1={axisTop} y2={axisBottom + 1.5} stroke="#000" strokeWidth={3} />
      <line x1={axisX} x2={axisRight} y1={axisBottom} y2={axisBottom} stroke="#000" strokeWidth={3} />
      {x.ticks(4).map((t) => (
        <g key={t}>
          <line x1={x(t)} x2={x(t)} y1={axisBottom} y2={axisBottom + 9} stroke="#000" strokeWidth={2.5} />
          <T x={x(t)} y={axisBottom + 31.5} textAnchor="middle" fontSize={28.5}>{minus(t)}</T>
        </g>
      ))}
      {[-20, 0, 20].map((t) => (
        <g key={t}>
          <line x1={axisX - 9} x2={axisX} y1={y(t)} y2={y(t)} stroke="#000" strokeWidth={2.5} />
          <T x={axisX - 27} y={y(t)} textAnchor="end" fontSize={28.5}>{minus(t)}</T>
        </g>
      ))}
      <T x={titleX} y={axisBottom + 83} textAnchor="middle" fontSize={29}>tSNE_1</T>
      <T transform={`translate(${axisX - 101},${y(0) + 4}) rotate(-90)`} textAnchor="middle" fontSize={29}>tSNE_2</T>
    </g>
  );
}

// ---------- Panels D and E ----------
function Jitter({ cats, colors, pointSets, yDomainPx, xPx, r, cores, means, brackets, bracketLabels, axis, labelXs, yTicks, title, titleX, yTitleX, yTitleY, tickLabelX }: any) {
  const x = d3.scaleLinear().domain([0, cats.length - 1]).range(xPx);
  const y = d3.scaleLinear().domain(yDomainPx.values).range(yDomainPx.pixels);
  const line = d3.line<Pt>().curve(d3.curveLinearClosed);
  return (
    <g>
      {cats.map((c: string, i: number) => {
        const shape = (pts: Pt[]) => line(pts.map((p) => [x(i + p[0]), y(p[1])] as Pt)) as string;
        return (
          <g key={c}>
            {cores[i].map((pts: Pt[], k: number) => (
              <path key={k} d={shape(pts)} fill={colors[i]} stroke={colors[i]} strokeWidth={2 * r} strokeLinejoin="round" />
            ))}
            {pointSets[i].map((p: Pt, k: number) => (
              <circle key={k} cx={x(i + p[0])} cy={y(p[1])} r={r} fill={colors[i]} />
            ))}
            <line x1={x(i - 0.355)} x2={x(i + 0.355)} y1={y(means[i])} y2={y(means[i])} stroke={colors[i]} strokeWidth={5} strokeLinecap="round" />
          </g>
        );
      })}
      {brackets.map(([a, b, top, tip, label]: any, i: number) => (
        <g key={i}>
          <path d={`M${x(a)},${y(tip)}V${y(top)}H${x(b)}V${y(tip)}`} fill="none" stroke="#000" strokeWidth={1.6} />
          <T x={x(bracketLabels[i][0])} y={y(bracketLabels[i][1])} textAnchor="middle" fontSize={23.7}>{label}</T>
        </g>
      ))}
      <line x1={axis.x} x2={axis.x} y1={axis.top} y2={axis.bottom + 1.5} stroke="#000" strokeWidth={3} />
      <line x1={axis.x} x2={axis.right} y1={axis.bottom} y2={axis.bottom} stroke="#000" strokeWidth={3} />
      {yTicks.map((t: number) => (
        <g key={t}>
          <line x1={axis.x - 9} x2={axis.x} y1={y(t)} y2={y(t)} stroke="#000" strokeWidth={2.5} />
          <T x={tickLabelX} y={y(t)} textAnchor="end" fontSize={28.5}>{t}</T>
        </g>
      ))}
      {cats.map((c: string, i: number) => (
        <g key={c}>
          <line x1={x(i)} x2={x(i)} y1={axis.bottom} y2={axis.bottom + 9} stroke="#000" strokeWidth={2.5} />
          {c === "Myeloid" ? (
            <T x={labelXs[i]} y={2356} textAnchor="middle" fontSize={28.5}><tspan>M</tspan><tspan dx={4}>yeloid</tspan></T>
          ) : (
            <T x={labelXs[i]} y={2356} textAnchor="middle" fontSize={28.5}>{c}</T>
          )}
        </g>
      ))}
      <T x={titleX} y={2389} textAnchor="middle" fontSize={28.5}>{title}</T>
      <T transform={`translate(${yTitleX},${yTitleY}) rotate(-90)`} textAnchor="middle" fontSize={28.5}>STIL expression</T>
    </g>
  );
}

export default function App() {
  const typeColor = (_id: number, type: number) => cellTypeColors[type];
  const idColor = (id: number) => clusterColor(id);
  const tissueCores = tissues.map((_, i) => (i === 3 ? [tissueBand, tumorCore] : [tissueBand]));
  const subtypeCores = subtypes.map((_, i) => {
    const top = subtypeCoreTops[i];
    return [[[-0.197, top], [0.197, top], [0.197, -0.4], [-0.197, -0.4]] as Pt[]];
  });
  return (
    <svg width={1960} height={2406} viewBox="0 0 1960 2406" style={{ position: "absolute", left: 0, top: 0, background: "#fff" }}>
      <DotPlot />
      <TSNE px={[204, 746.7]} py={[1467, 1043.5]} axisX={201.7} axisTop={847.6} axisBottom={1675} axisRight={750}
        colorOf={idColor} showClusterLabels titleX={457} />
      <TSNE px={[935, 1477]} py={[1465, 1040.5]} axisX={932.8} axisTop={845.7} axisBottom={1671.8} axisRight={1482}
        colorOf={typeColor} showClusterLabels={false} titleX={1188} />
      {cellTypes.map((t, i) => (
        <g key={t}>
          <circle cx={1545.7} cy={1154 + i * 46} r={11} fill={cellTypeColors[i]} />
          <T x={1590} y={1155 + i * 46} fontSize={35.5}>{t}</T>
        </g>
      ))}
      <Jitter cats={tissues} colors={tissueColors} pointSets={tissuePoints} cores={tissueCores} means={tissueMeans}
        yDomainPx={{ values: [0, 3], pixels: [2290, 1913] }} xPx={[211.8, 767.5]} r={6.2}
        brackets={tissueBrackets} bracketLabels={tissueBracketLabels}
        axis={{ x: 101, top: 1888, bottom: 2332.5, right: 878 }} labelXs={[211.8, 396.7, 582, 767.5]} yTicks={[0, 1, 2, 3]}
        title="Tissue" titleX={504} yTitleX={47.6} yTitleY={2042} tickLabelX={87} />
      <Jitter cats={subtypes} colors={subtypeColors} pointSets={subtypePoints} cores={subtypeCores} means={[0, 0, 0, 0, 0, 0]}
        yDomainPx={{ values: [0, 6], pixels: [2266.6, 1947] }} xPx={[1094, 1867.6]} r={7.2}
        brackets={subtypeBrackets} bracketLabels={subtypeBracketLabels}
        axis={{ x: 1001.4, top: 1874, bottom: 2319, right: 1960 }} labelXs={[1097, 1247, 1402, 1547, 1717, 1865.5]} yTicks={[0, 3, 6]}
        title="Subtype" titleX={1423} yTitleX={934} yTitleY={2057} tickLabelX={987} />
      <T x={49} y={17} textAnchor="middle" fontSize={32} fontWeight="bold">A</T>
      <T x={61} y={849} textAnchor="middle" fontSize={32} fontWeight="bold">B</T>
      <T x={865} y={837} textAnchor="middle" fontSize={32} fontWeight="bold">C</T>
      <T x={68} y={1817} textAnchor="middle" fontSize={32} fontWeight="bold">D</T>
      <T x={954} y={1817} textAnchor="middle" fontSize={32} fontWeight="bold">E</T>
    </svg>
  );
}
